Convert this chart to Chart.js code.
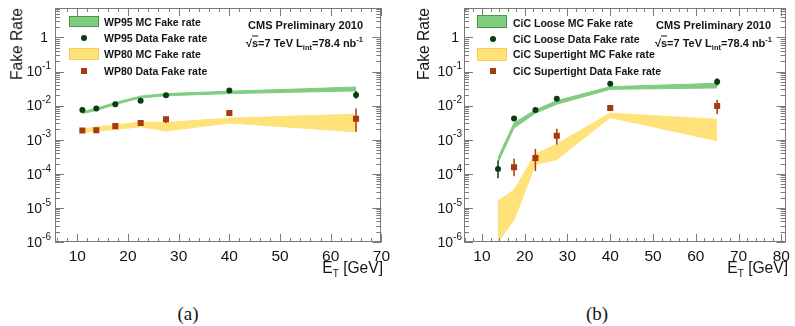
<!DOCTYPE html>
<html lang="en">
<head>
<meta charset="UTF-8">
<title>Fake Rate vs E_T</title>
<script src="https://cdn.jsdelivr.net/npm/chart.js"></script>
<style>
    html, body { margin: 0; padding: 0; }
    body {
        position: relative;
        width: 795px;
        height: 326px;
        overflow: hidden;
        background: #fff;
        font-family: "Liberation Sans", Arial, sans-serif;
        color: #151515;
    }
    canvas { position: absolute; top: 0; }
    #chartA { left: 0; }
    #chartB { left: 395px; }
    .txt { position: absolute; white-space: nowrap; line-height: 1; }
    .leg { font-size: 10.5px; font-weight: bold; transform: translateY(-50%); }
    .cms { font-size: 11px; font-weight: bold; text-align: right; transform: translateY(-50%); }
    .cms sub, .cms sup { font-size: 7.5px; line-height: 0; }
    .root { border-top: 1px solid #151515; }
    .ytitle { font-size: 15.6px; transform: translate(-50%, -50%) rotate(-90deg); }
    .xtitle { font-size: 15.6px; text-align: right; transform: translateY(-50%); }
    .xtitle sub { font-size: 10px; line-height: 0; }
    .cap { font-family: "Liberation Serif", "Times New Roman", serif; font-size: 19px; transform: translate(-50%, -50%); }
    .box { position: absolute; box-sizing: border-box; }
    .dot { position: absolute; width: 6px; height: 6px; border-radius: 50%; background: #0c3b14; transform: translate(-50%, -50%); }
    .sq { position: absolute; width: 6px; height: 6px; background: #a63b0e; transform: translate(-50%, -50%); }
</style>
</head>
<body>
    <canvas id="chartA" width="395" height="290"></canvas>
    <canvas id="chartB" width="400" height="290"></canvas>

    <!-- panel (a) legend -->
    <div class="box" style="left:69px;top:16px;width:30px;height:11px;background:#80cc80;border:1px solid #3f9f3f;"></div>
    <div class="txt leg" style="left:104px;top:22px;">WP95 MC Fake rate</div>
    <div class="dot" style="left:84px;top:38px;"></div>
    <div class="txt leg" style="left:104px;top:38px;">WP95 Data Fake rate</div>
    <div class="box" style="left:69px;top:48px;width:30px;height:12px;background:#ffe27a;border:1px solid #f6cf52;"></div>
    <div class="txt leg" style="left:104px;top:54px;">WP80 MC Fake rate</div>
    <div class="sq" style="left:84px;top:71px;"></div>
    <div class="txt leg" style="left:104px;top:71px;">WP80 Data Fake rate</div>
    <div class="txt cms" style="left:200px;width:163px;top:25px;">CMS Preliminary 2010</div>
    <div class="txt cms" style="left:200px;width:163px;top:43px;">√<span class="root">s</span>=7 TeV L<sub>int</sub>=78.4 nb<sup>-1</sup></div>

    <!-- panel (b) legend -->
    <div class="box" style="left:477px;top:15px;width:30px;height:13px;background:#80cc80;border:1px solid #3f9f3f;"></div>
    <div class="txt leg" style="left:513px;top:23px;">CiC Loose MC Fake rate</div>
    <div class="dot" style="left:493px;top:39px;"></div>
    <div class="txt leg" style="left:513px;top:39px;">CiC Loose Data Fake rate</div>
    <div class="box" style="left:477px;top:48px;width:30px;height:13px;background:#ffe27a;border:1px solid #f6cf52;"></div>
    <div class="txt leg" style="left:513px;top:54px;">CiC Supertight MC Fake rate</div>
    <div class="sq" style="left:493px;top:71px;"></div>
    <div class="txt leg" style="left:513px;top:71px;">CiC Supertight Data Fake rate</div>
    <div class="txt cms" style="left:600px;width:171px;top:25px;">CMS Preliminary 2010</div>
    <div class="txt cms" style="left:600px;width:172px;top:43px;">√<span class="root">s</span>=7 TeV L<sub>int</sub>=78.4 nb<sup>-1</sup></div>

    <!-- axis titles and captions -->
    <div class="txt ytitle" style="left:17px;top:44px;">Fake Rate</div>
    <div class="txt ytitle" style="left:424px;top:44px;">Fake Rate</div>
    <div class="txt xtitle" style="left:283px;width:100px;top:268px;">E<sub>T</sub> [GeV]</div>
    <div class="txt xtitle" style="left:688px;width:100px;top:268px;">E<sub>T</sub> [GeV]</div>
    <div class="txt cap" style="left:188px;top:313px;">(a)</div>
    <div class="txt cap" style="left:597px;top:313px;">(b)</div>

<script>
    // tick labels
    const yDecades = [1e-6, 1e-5, 1e-4, 1e-3, 1e-2, 1e-1, 1];
    const yTickExp = ['-6', '-5', '-4', '-3', '-2', '-1', ''];
    const xTicksA = [10, 20, 30, 40, 50, 60, 70];
    const xTicksB = [10, 20, 30, 40, 50, 60, 70, 80];

    // panel (a): WP95 / WP80
    const etA = [11, 13.75, 17.5, 22.5, 27.5, 40, 65];
    const wp95McLo = [0.0058, 0.0072, 0.0108, 0.0168, 0.0195, 0.0225, 0.027];
    const wp95McHi = [0.0067, 0.0083, 0.0124, 0.0190, 0.0225, 0.0265, 0.035];
    const wp95Data = [0.0074, 0.0082, 0.011, 0.014, 0.020, 0.0276, 0.0205];
    const wp95ErrLo = [0.0069, 0.0077, 0.0103, 0.0131, 0.0188, 0.026, 0.016];
    const wp95ErrHi = [0.0079, 0.0087, 0.0117, 0.0149, 0.0212, 0.0292, 0.027];
    const wp80McLo = [0.0016, 0.0018, 0.0020, 0.0024, 0.0018, 0.0031, 0.0017];
    const wp80McHi = [0.0020, 0.0024, 0.0027, 0.0033, 0.0032, 0.0043, 0.0056];
    const wp80Data = [0.00187, 0.0019, 0.0025, 0.0031, 0.0040, 0.0061, 0.0041];
    const wp80ErrLo = [0.0017, 0.0017, 0.0023, 0.0028, 0.0031, 0.0054, 0.0017];
    const wp80ErrHi = [0.0021, 0.0021, 0.0027, 0.0034, 0.0047, 0.0068, 0.0082];

    // panel (b): CiC Loose / Supertight
    const etB = [13.75, 17.5, 22.5, 27.5, 40, 65];
    const looseMcLo = [0.00021, 0.0022, 0.0060, 0.011, 0.030, 0.033];
    const looseMcHi = [0.00030, 0.0031, 0.0075, 0.014, 0.036, 0.045];
    const looseData = [0.000139, 0.0042, 0.0075, 0.0159, 0.0437, 0.050];
    const looseErrLo = [0.000074, 0.0039, 0.0070, 0.0150, 0.041, 0.039];
    const looseErrHi = [0.000245, 0.0045, 0.0080, 0.0168, 0.0465, 0.064];
    const tightMcLo = [1.0e-6, 4.4e-6, 1.9e-4, 2.6e-4, 0.0045, 0.00093];
    const tightMcHi = [1.6e-5, 3.4e-5, 3.8e-4, 7.4e-4, 0.0060, 0.0040];
    const tightData = [null, 0.000156, 0.00029, 0.0013, 0.0085, 0.0097];
    const tightErrLo = [null, 0.000085, 0.00012, 0.00072, 0.0076, 0.0057];
    const tightErrHi = [null, 0.00028, 0.00053, 0.0021, 0.0095, 0.0148];

    const GREEN = '#80cc80';
    const YELLOW = '#ffe27a';
    const DKGREEN = '#0c3b14';
    const BROWN = '#a63b0e';

    function pts(xs, ys) {
        return xs.map((x, i) => ({ x: x, y: ys[i] })).filter(p => p.y != null);
    }

    function band(xs, lo, hi, color) {
        return [
            { type: 'line', data: pts(xs, lo), borderColor: color, backgroundColor: color,
              borderWidth: 1, pointRadius: 0, fill: false, order: 2 },
            { type: 'line', data: pts(xs, hi), borderColor: color, backgroundColor: color,
              borderWidth: 1, pointRadius: 0, fill: '-1', order: 2 }
        ];
    }

    function marks(xs, ys, lo, hi, color, style, r) {
        return {
            type: 'scatter', data: pts(xs, ys),
            err: xs.map((x, i) => [x, lo[i], hi[i]]).filter(e => e[1] != null),
            backgroundColor: color, borderColor: color, borderWidth: 0,
            pointStyle: style, pointRadius: r, order: 0
        };
    }

    function isDecade(v) {
        const e = Math.log10(v);
        return Math.abs(e - Math.round(e)) < 1e-6;
    }

    // ROOT style frame with inner tick marks on all four sides, plus 10^n labels
    const rootFrame = {
        id: 'rootFrame',
        afterDraw(chart) {
            const { ctx, chartArea: a, scales: { x, y } } = chart;
            ctx.save();
            ctx.strokeStyle = '#7a7a7a';
            ctx.lineWidth = 1;
            ctx.beginPath();
            x.ticks.forEach(t => {
                if (Math.abs(t.value / 2 - Math.round(t.value / 2)) > 1e-6) return;
                const px = Math.round(x.getPixelForValue(t.value)) + 0.5;
                const len = t.value % 10 === 0 ? 8 : 4;
                ctx.moveTo(px, a.bottom); ctx.lineTo(px, a.bottom - len);
                ctx.moveTo(px, a.top); ctx.lineTo(px, a.top + len);
            });
            y.ticks.forEach(t => {
                const e = Math.floor(Math.log10(t.value) + 1e-9);
                const m = t.value / Math.pow(10, e);
                if (Math.abs(m - Math.round(m)) > 1e-6) return;
                const py = Math.round(y.getPixelForValue(t.value)) + 0.5;
                const len = isDecade(t.value) ? 9 : 5;
                ctx.moveTo(a.left, py); ctx.lineTo(a.left + len, py);
                ctx.moveTo(a.right, py); ctx.lineTo(a.right - len, py);
            });
            ctx.stroke();
            ctx.strokeRect(Math.round(a.left) + 0.5, Math.round(a.top) + 0.5,
                Math.round(a.right - a.left) - 1, Math.round(a.bottom - a.top) - 1);

            // decade labels with raised exponent
            const xr = a.left - chart.options.scales.y.ticks.padding;
            ctx.fillStyle = '#151515';
            ctx.textBaseline = 'middle';
            ctx.textAlign = 'right';
            yDecades.forEach((d, i) => {
                const py = y.getPixelForValue(d) + 1;
                const ex = yTickExp[i];
                if (ex === '') {
                    ctx.font = '14px "Liberation Sans"';
                    ctx.fillText('1', xr - 3, py);
                    return;
                }
                ctx.font = '10px "Liberation Sans"';
                const w = ctx.measureText(ex).width;
                ctx.fillText(ex, xr, py - 6);
                ctx.font = '14px "Liberation Sans"';
                ctx.fillText('10', xr - w, py);
            });
            ctx.restore();
        }
    };

    const errorBars = {
        id: 'errorBars',
        afterDatasetsDraw(chart) {
            const { ctx, chartArea: a, scales: { x, y } } = chart;
            ctx.save();
            ctx.beginPath();
            ctx.rect(a.left, a.top, a.right - a.left, a.bottom - a.top);
            ctx.clip();
            chart.data.datasets.forEach(ds => {
                if (!ds.err) return;
                ctx.strokeStyle = ds.borderColor;
                ctx.lineWidth = 1.5;
                ds.err.forEach(([ex, lo, hi]) => {
                    const px = x.getPixelForValue(ex);
                    ctx.beginPath();
                    ctx.moveTo(px, y.getPixelForValue(lo));
                    ctx.lineTo(px, y.getPixelForValue(hi));
                    ctx.stroke();
                });
            });
            ctx.restore();
        }
    };

    function makeChart(id, opt) {
        return new Chart(document.getElementById(id), {
            type: 'scatter',
            data: { datasets: opt.datasets },
            options: {
                responsive: false,
                animation: false,
                events: [],
                layout: { autoPadding: false, padding: { top: 8, right: opt.padRight, left: 0, bottom: 0 } },
                plugins: { legend: { display: false }, tooltip: { enabled: false } },
                scales: {
                    x: {
                        type: 'linear', min: opt.xMin, max: opt.xMax,
                        grid: { display: false, drawTicks: false },
                        border: { display: false },
                        ticks: {
                            stepSize: 2, includeBounds: false, autoSkip: false, maxRotation: 0, padding: 5,
                            color: '#151515', font: { family: 'Liberation Sans', size: 15.5 },
                            callback: v => opt.xLabels.includes(v) ? String(v) : ''
                        },
                        afterFit: s => { s.height = 48; }
                    },
                    y: {
                        type: 'logarithmic', min: 1e-6, max: 7.3,
                        grid: { display: false, drawTicks: false },
                        border: { display: false },
                        ticks: { display: false, autoSkip: false, padding: opt.yPad },
                        afterFit: s => { s.width = opt.yWidth; }
                    }
                }
            },
            plugins: [rootFrame, errorBars]
        });
    }

    makeChart('chartA', {
        xMin: 5.6, xMax: 70, xLabels: xTicksA, yWidth: 55, yPad: 4, padRight: 12,
        datasets: [
            ...band(etA, wp95McLo, wp95McHi, GREEN),
            ...band(etA, wp80McLo, wp80McHi, YELLOW),
            marks(etA, wp95Data, wp95ErrLo, wp95ErrHi, DKGREEN, 'circle', 3),
            marks(etA, wp80Data, wp80ErrLo, wp80ErrHi, BROWN, 'rect', 4.3)
        ]
    });

    makeChart('chartB', {
        xMin: 5.8, xMax: 81, xLabels: xTicksB, yWidth: 69, yPad: 2, padRight: 6,
        datasets: [
            ...band(etB, looseMcLo, looseMcHi, GREEN),
            ...band(etB, tightMcLo, tightMcHi, YELLOW),
            marks(etB, looseData, looseErrLo, looseErrHi, DKGREEN, 'circle', 3),
            marks(etB, tightData, tightErrLo, tightErrHi, BROWN, 'rect', 4.3)
        ]
    });
</script>
</body>
</html>
